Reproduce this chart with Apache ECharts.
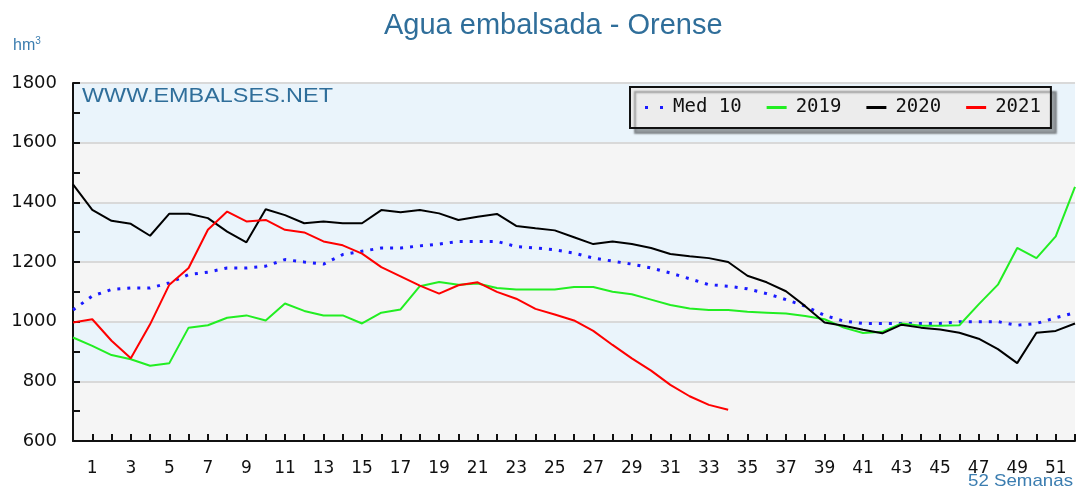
<!DOCTYPE html>
<html>
<head>
<meta charset="utf-8">
<script src="https://cdn.jsdelivr.net/npm/echarts@6/dist/echarts.min.js"></script>
<style>
  html, body { margin: 0; padding: 0; background: #fff; }
  #chart { width: 1078px; height: 491px; }
</style>
</head>
<body>
<div id="chart"></div>
<script>
// semanas 0..52
const weeks = Array.from({ length: 53 }, (_, i) => i)

// hm3
const med10 = [1039, 1086, 1108, 1113, 1113, 1130, 1158, 1166, 1180, 1180,
  1186, 1208, 1200, 1193, 1225, 1236, 1247, 1247, 1254, 1260,
  1269, 1269, 1269, 1252, 1247, 1241, 1230, 1213, 1203, 1193,
  1180, 1163, 1144, 1124, 1119, 1110, 1094, 1074, 1052, 1021,
  1002, 994, 994, 994, 994, 994, 1000, 1000, 1000, 988,
  994, 1013, 1030]
const y2019 = [947, 919, 888, 874, 852, 861, 980, 988, 1013, 1021,
  1004, 1061, 1036, 1021, 1021, 994, 1030, 1041, 1119, 1133,
  1124, 1128, 1113, 1108, 1108, 1108, 1116, 1116, 1100, 1092,
  1074, 1056, 1044, 1039, 1039, 1033, 1030, 1027, 1019, 1008,
  980, 962, 966, 994, 986, 986, 988, 1058, 1124, 1247,
  1213, 1286, 1452]
const y2020 = [1460, 1375, 1338, 1328, 1288, 1362, 1362, 1347, 1302, 1266,
  1377, 1357, 1330, 1336, 1330, 1330, 1374, 1367, 1374, 1363,
  1341, 1352, 1361, 1321, 1313, 1306, 1283, 1260, 1269, 1260,
  1247, 1227, 1219, 1213, 1200, 1154, 1132, 1102, 1052, 997,
  986, 973, 961, 990, 980, 974, 963, 943, 908, 861,
  963, 969, 994]
const y2021 = [997, 1008, 936, 877, 991, 1124, 1180, 1308, 1369, 1336,
  1341, 1308, 1299, 1269, 1256, 1228, 1183, 1152, 1121, 1094,
  1122, 1132, 1100, 1077, 1043, 1024, 1004, 969, 922, 877,
  836, 788, 750, 721, 705]

const toPoints = arr => arr.map((v, i) => [weeks[i], v])

const chart = echarts.init(document.getElementById('chart'))
const blue = '#2f6e9a'
const lineIcon = 'path://M0,0h20v3h-20z'
const dotIcon = 'path://M0,0h3v3h-3zM15,0h3v3h-3z'

const option = {
  animation: false,
  backgroundColor: '#fff',
  title: {
    text: 'Agua embalsada - Orense',
    left: 379,
    top: 6,
    textStyle: { fontFamily: 'Liberation Sans', fontSize: 29, fontWeight: 'normal', color: blue }
  },
  graphic: [
    {
      type: 'text', left: 13, top: 36, z: 100,
      style: {
        text: '{a|hm}{b|3}',
        rich: {
          a: { fontFamily: 'Liberation Sans', fontSize: 16, fill: '#3b7db0', verticalAlign: 'bottom' },
          b: { fontFamily: 'Liberation Sans', fontSize: 10, fill: '#3b7db0', verticalAlign: 'top', padding: [0, 0, 8, 0] }
        }
      }
    },
    {
      type: 'text', left: 82, top: 86, z: 100, scaleX: 1.17,
      style: { text: 'WWW.EMBALSES.NET', fontFamily: 'Liberation Sans', fontSize: 20, fill: blue }
    },
    {
      type: 'text', left: 968, top: 473, z: 100, scaleX: 1.1,
      style: { text: '52 Semanas', fontFamily: 'Liberation Sans', fontSize: 17, fill: '#3b7db0' }
    }
  ],
  legend: {
    left: 630,
    top: 87,
    padding: [11, 10, 11, 15],
    itemGap: 25,
    itemWidth: 20,
    itemHeight: 3,
    backgroundColor: '#ececec',
    borderColor: '#111',
    borderWidth: 2,
    borderRadius: 0,
    shadowColor: 'rgba(0,0,0,0.35)',
    shadowOffsetX: 5,
    shadowOffsetY: 5,
    shadowBlur: 2,
    textStyle: { fontFamily: 'DejaVu Sans Mono', fontSize: 19, color: '#111', padding: [0, 0, 0, 4] },
    data: [
      { name: 'Med 10', icon: dotIcon },
      { name: '2019', icon: lineIcon },
      { name: '2020', icon: lineIcon },
      { name: '2021', icon: lineIcon }
    ]
  },
  grid: { left: 73, right: 3, top: 83, bottom: 50 },
  xAxis: {
    type: 'value',
    min: 0,
    max: 52,
    interval: 1,
    axisLine: { lineStyle: { color: '#111', width: 2 } },
    axisTick: { inside: true, length: 7, lineStyle: { color: '#111', width: 2 } },
    axisLabel: {
      margin: 19,
      fontFamily: 'DejaVu Sans',
      fontSize: 17,
      color: '#111',
      formatter: v => (v % 2 === 1 && v < 52 ? String(v) : '')
    },
    splitLine: { show: false }
  },
  yAxis: {
    type: 'value',
    min: 600,
    max: 1800,
    interval: 200,
    axisLine: { show: true, lineStyle: { color: '#111', width: 2 } },
    axisTick: { show: true, inside: true, length: 7, lineStyle: { color: '#111', width: 2 } },
    minorTick: { show: true, splitNumber: 2, length: 7, lineStyle: { color: '#111', width: 2 } },
    axisLabel: {
      margin: 16, fontFamily: 'DejaVu Sans', fontSize: 18, color: '#111',
      formatter: v => String(v)
    },
    splitLine: { show: true, lineStyle: { color: '#d9d9d9', width: 2 } },
    splitArea: { show: true, areaStyle: { color: ['#f5f5f5', '#eaf4fb'] } }
  },
  series: [
    {
      name: 'Med 10', type: 'line', symbol: 'none',
      data: toPoints(med10),
      lineStyle: { color: '#1a1aff', width: 3, type: [3, 7] },
      itemStyle: { color: '#1a1aff' }
    },
    {
      name: '2019', type: 'line', symbol: 'none',
      data: toPoints(y2019),
      lineStyle: { color: '#22ee22', width: 2 },
      itemStyle: { color: '#22ee22' }
    },
    {
      name: '2020', type: 'line', symbol: 'none',
      data: toPoints(y2020),
      lineStyle: { color: '#000', width: 2 },
      itemStyle: { color: '#000' }
    },
    {
      name: '2021', type: 'line', symbol: 'none',
      data: toPoints(y2021),
      lineStyle: { color: '#ff0000', width: 2 },
      itemStyle: { color: '#ff0000' }
    }
  ]
}

chart.setOption(option)

window.addEventListener('resize', () => {
  chart.resize()
})
</script>
</body>
</html>
